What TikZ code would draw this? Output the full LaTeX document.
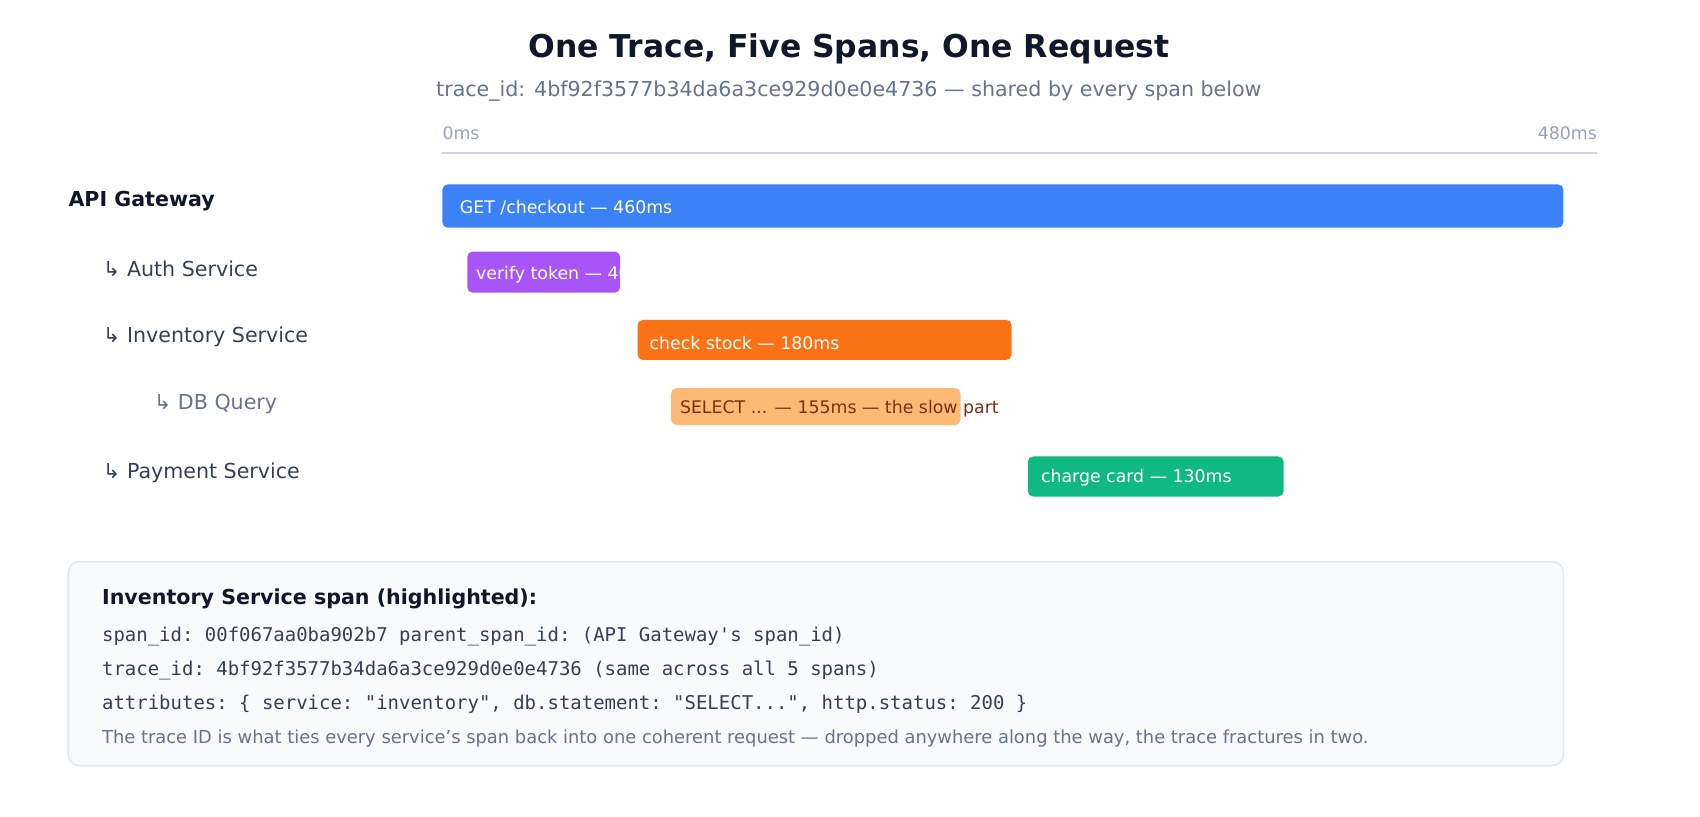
\documentclass[tikz,border=0pt]{standalone}
\usepackage{fontspec}
\setmainfont{DejaVu Sans}
\setmonofont{DejaVu Sans Mono}
\definecolor{ink}{HTML}{0F172A}
\definecolor{slate}{HTML}{334155}
\definecolor{muted}{HTML}{64748B}
\definecolor{faint}{HTML}{94A3B8}
\definecolor{rule}{HTML}{CBD5E1}
\definecolor{cblue}{HTML}{3B82F6}
\definecolor{cpurple}{HTML}{A855F7}
\definecolor{corange}{HTML}{F97316}
\definecolor{clight}{HTML}{FDBA74}
\definecolor{cbrown}{HTML}{7C2D12}
\definecolor{cgreen}{HTML}{10B981}
\definecolor{boxfill}{HTML}{F8FAFC}
\definecolor{boxline}{HTML}{E2E8F0}
\tikzset{
  row/.style = {anchor=west, inner sep=0pt, text=slate, font=\fontsize{19}{22}\selectfont},
  span/.style = {rounded corners=5pt},
  spantext/.style = {anchor=west, inner sep=0pt, text=white, font=\fontsize{16}{19}\selectfont},
  mono/.style = {anchor=west, inner sep=0pt, text=slate, font=\ttfamily\fontsize{17.5}{20}\selectfont},
}
\begin{document}
\begin{tikzpicture}[x=1pt, y=-1pt]
    \useasboundingbox (0,0) rectangle (1568,753);
    % title
    \node[font=\bfseries\fontsize{29}{34}\selectfont, text=ink] (title) at (783,45) {One Trace, Five Spans, One Request};
    \node[font=\fontsize{19}{22}\selectfont, text=muted] (sub) at (783,84) {trace\_id: 4bf92f3577b34da6a3ce929d0e0e4736 — shared by every span below};

    % time axis
    \coordinate (t0) at (408,141);
    \coordinate (t1) at (1473,141);
    \draw[rule, line width=1.5pt] (t0) -- (t1);
    \node[anchor=west, inner sep=0pt, text=faint, font=\fontsize{16}{19}\selectfont] (zero) at (408,123) {0ms};
    \node[anchor=east, inner sep=0pt, text=faint, font=\fontsize{16}{19}\selectfont] (end) at (1473,123) {480ms};

    % service names
    \node[row, text=ink, font=\bfseries\fontsize{19}{22}\selectfont] (gw) at (63,185) {API Gateway};
    \node[row] (auth) at (95,248) {↳ Auth Service};
    \node[row] (inv) at (95,311) {↳ Inventory Service};
    \node[row, text=muted] (db) at (142,373) {↳ DB Query};
    \node[row] (pay) at (95,436) {↳ Payment Service};

    % spans
    \fill[span, cblue] (408,170) rectangle (1442,210);
    \node[spantext] (gwspan) at (424,192) {GET /checkout — 460ms};

    \fill[span, cpurple] (431,232) rectangle (572,270);
    \begin{scope}
        \clip (431,232) rectangle (572,270);
        \node[spantext] (authspan) at (439,253) {verify token — 40ms};
    \end{scope}

    \fill[span, corange] (588,295) rectangle (933,332);
    \node[spantext] (invspan) at (599,316) {check stock — 180ms};

    \fill[span, clight] (619,358) rectangle (886,392);
    \node[spantext, text=cbrown] (dbspan) at (627,377) {SELECT ... — 155ms — the slow part};

    \fill[span, cgreen] (948,421) rectangle (1184,458);
    \node[spantext] (payspan) at (960,441) {charge card — 130ms};

    % detail box
    \draw[rounded corners=10pt, fill=boxfill, draw=boxline, line width=1.5pt] (63,518) rectangle (1442,706);
    \node[row, text=ink, font=\bfseries\fontsize{19}{22}\selectfont] (head) at (94,552) {Inventory Service span (highlighted):};
    \node[mono] (l1) at (94,587) {span\_id: 00f067aa0ba902b7 parent\_span\_id: (API Gateway's span\_id)};
    \node[mono] (l2) at (94,618) {trace\_id: 4bf92f3577b34da6a3ce929d0e0e4736 (same across all 5 spans)};
    \node[mono] (l3) at (94,650) {attributes: \{ service: "inventory", db.statement: "SELECT...", http.status: 200 \}};
    \node[row, text=muted, font=\fontsize{16.5}{19}\selectfont] (note) at (94,681) {The trace ID is what ties every service's span back into one coherent request — dropped anywhere along the way, the trace fractures in two.};
\end{tikzpicture}
\end{document}
